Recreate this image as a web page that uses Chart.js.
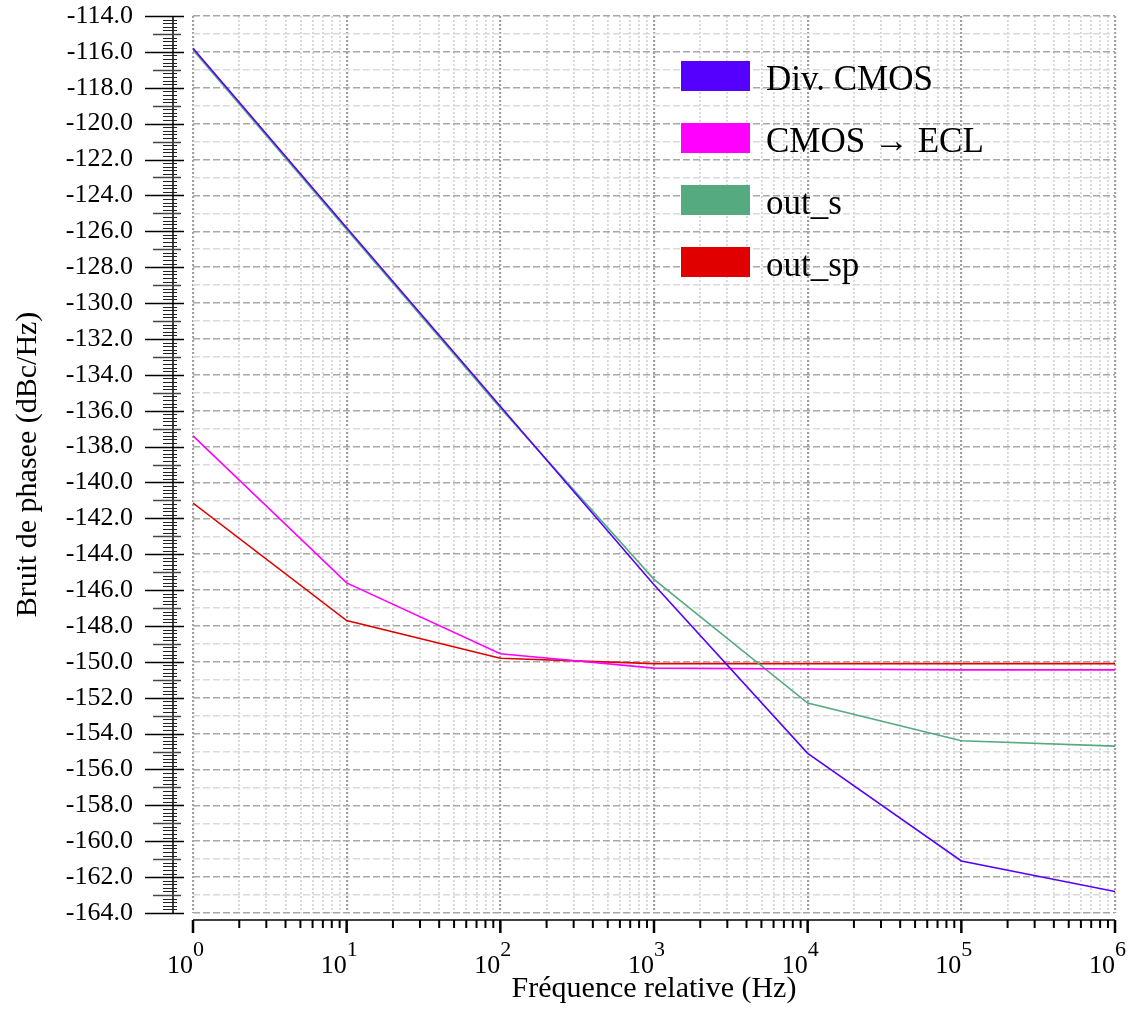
<!DOCTYPE html>
<html>
<head>
<meta charset="utf-8">
<script src="https://cdn.jsdelivr.net/npm/chart.js@4.4.1/dist/chart.umd.min.js"></script>
<style>
  html, body { margin: 0; padding: 0; background: #fff; }
</style>
</head>
<body>
<canvas id="phaseChart" width="1143" height="1011"></canvas>
<script>
// Data (one point per decade)
const freqs = [1, 10, 100, 1000, 10000, 100000, 1000000];
const divCmos = [-115.8, -125.8, -135.75, -145.7, -155.1, -161.1, -162.8];
const cmosEcl = [-137.4, -145.6, -149.55, -150.35, -150.4, -150.45, -150.45];
const outS = [-115.9, -125.9, -135.85, -145.4, -152.3, -154.4, -154.7];
const outSp = [-141.15, -147.7, -149.8, -150.1, -150.1, -150.1, -150.1];

const seriesNames = ['Div. CMOS', 'CMOS \u2192 ECL', 'out_s', 'out_sp'];
const seriesValues = [divCmos, cmosEcl, outS, outSp];
const seriesColors = ['#5500ff', '#ff00ff', '#55aa80', '#e00000'];

// Axis ranges
const yMin = -164;
const yMax = -114;
const xExponents = [0, 1, 2, 3, 4, 5, 6];

const FONT = 'Liberation Serif';

// x gridlines at 1..9 x 10^n
function logTicks() {
    const ticks = [];
    for (let e = xExponents[0]; e < xExponents[xExponents.length - 1]; e++) {
        for (let m = 1; m <= 9; m++) ticks.push({ value: m * Math.pow(10, e) });
    }
    ticks.push({ value: Math.pow(10, xExponents[xExponents.length - 1]) });
    return ticks;
}

function isDecade(v) {
    const l = Math.log10(v);
    return Math.abs(l - Math.round(l)) < 1e-9;
}

// Axes, ticks, exponent labels and legend drawn on top
const axesPlugin = {
    id: 'axesPlugin',
    afterDraw(chart) {
        const { ctx, chartArea: a, scales: { x, y } } = chart;
        const ax = a.left - 20;
        const ay = a.bottom + 7;
        ctx.save();

        // y axis line
        ctx.strokeStyle = '#000';
        ctx.lineWidth = 1.5;
        ctx.beginPath();
        ctx.moveTo(ax, a.top);
        ctx.lineTo(ax, a.bottom);
        ctx.stroke();

        // y ticks every 0.2
        const steps = (yMax - yMin) * 5;
        for (let i = 0; i <= steps; i++) {
            const py = Math.round(y.getPixelForValue(yMin + i / 5)) + 0.5;
            let l, r;
            if (i % 10 === 0) { l = 28; r = 11; ctx.strokeStyle = '#000'; ctx.lineWidth = 1.5; }
            else if (i % 5 === 0) { l = 20; r = 8; ctx.strokeStyle = '#444'; ctx.lineWidth = 1.5; }
            else { l = 10; r = 4; ctx.strokeStyle = '#222'; ctx.lineWidth = 1; }
            ctx.beginPath();
            ctx.moveTo(ax - l, py);
            ctx.lineTo(ax + r, py);
            ctx.stroke();
        }

        // x axis line
        ctx.strokeStyle = '#000';
        ctx.lineWidth = 1.5;
        ctx.beginPath();
        ctx.moveTo(a.left, ay);
        ctx.lineTo(a.right, ay);
        ctx.stroke();

        // x ticks
        logTicks().forEach(t => {
            const px = x.getPixelForValue(t.value);
            const major = isDecade(t.value);
            ctx.lineWidth = major ? 2.5 : 2;
            ctx.beginPath();
            ctx.moveTo(px, ay);
            ctx.lineTo(px, ay + (major ? 13 : 8));
            ctx.stroke();
        });

        // x labels 10^n
        ctx.fillStyle = '#000';
        ctx.textBaseline = 'alphabetic';
        xExponents.forEach(e => {
            const px = x.getPixelForValue(Math.pow(10, e));
            ctx.font = '26px "' + FONT + '"';
            ctx.textAlign = 'right';
            ctx.fillText('10', px, ay + 53);
            ctx.font = '22px "' + FONT + '"';
            ctx.textAlign = 'left';
            ctx.fillText(String(e), px, ay + 36);
        });

        // legend
        const lx = a.left + 488;
        const ly = a.top + 45;
        ctx.font = '35px "' + FONT + '"';
        ctx.textAlign = 'left';
        chart.data.datasets.forEach((ds, i) => {
            const by = ly + i * 62;
            ctx.fillStyle = ds.borderColor;
            ctx.fillRect(lx, by, 69, 30);
            ctx.fillStyle = '#000';
            ctx.fillText(ds.label, lx + 85, by + 29);
        });

        ctx.restore();
    }
};

const ctx = document.getElementById('phaseChart').getContext('2d');

const phaseChart = new Chart(ctx, {
    type: 'line',
    data: {
        datasets: seriesNames.map((name, i) => ({
            label: name,
            data: freqs.map((f, j) => ({ x: f, y: seriesValues[i][j] })),
            borderColor: seriesColors[i],
            backgroundColor: seriesColors[i],
            borderWidth: 1.6,
            pointRadius: 0,
            fill: false,
            tension: 0
        }))
    },
    options: {
        responsive: false,
        animation: false,
        devicePixelRatio: 1,
        layout: { padding: { top: 16, right: 28, left: 0, bottom: 0 } },
        plugins: {
            legend: { display: false },
            tooltip: { enabled: false }
        },
        scales: {
            x: {
                type: 'logarithmic',
                min: 1,
                max: 1000000,
                afterBuildTicks: scale => { scale.ticks = logTicks(); },
                afterFit: scale => { scale.height = 98; },
                ticks: { display: false, autoSkip: false },
                grid: {
                    drawTicks: false,
                    color: c => isDecade(c.tick.value) ? '#a0a0a0' : '#d6d6d6',
                    lineWidth: c => isDecade(c.tick.value) ? 2.2 : 1.8
                },
                border: { display: false, dash: [2, 2] },
                title: {
                    display: true,
                    text: 'Fréquence relative (Hz)',
                    color: '#000',
                    font: { family: FONT, size: 30 },
                    padding: { top: 0, bottom: 4 }
                }
            },
            y: {
                min: yMin,
                max: yMax,
                afterFit: scale => {
                    scale.width = 193;
                    scale.paddingTop = 0;
                    scale.paddingBottom = 0;
                },
                ticks: {
                    stepSize: 1,
                    autoSkip: false,
                    padding: 60,
                    color: '#000',
                    font: { family: FONT, size: 26 },
                    callback: v => (Math.abs(v) % 2 === 0 ? v.toFixed(1) : '')
                },
                grid: {
                    drawTicks: false,
                    color: c => (Math.abs(c.tick.value) % 2 === 0 ? '#a8a8a8' : '#dadada'),
                    lineWidth: 1.5
                },
                border: { display: false, dash: [7, 3] },
                title: {
                    display: true,
                    text: 'Bruit de phasee (dBc/Hz)',
                    color: '#000',
                    font: { family: FONT, size: 30 },
                    padding: { top: 10, bottom: 0 }
                }
            }
        }
    },
    plugins: [axesPlugin]
});
</script>
</body>
</html>
